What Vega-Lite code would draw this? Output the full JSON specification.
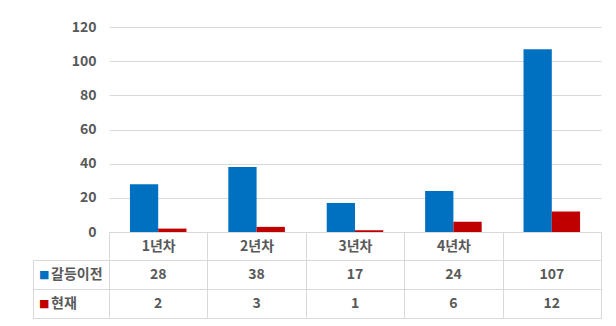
{
  "$schema": "https://vega.github.io/schema/vega-lite/v6.json",
  "padding": {"left": 32, "top": 20, "right": 0, "bottom": 0},
  "background": "white",
  "datasets": {
    "d": [
      {"year": "1년차", "series": "갈등이전", "value": 28},
      {"year": "2년차", "series": "갈등이전", "value": 38},
      {"year": "3년차", "series": "갈등이전", "value": 17},
      {"year": "4년차", "series": "갈등이전", "value": 24},
      {"year": "", "series": "갈등이전", "value": 107},
      {"year": "1년차", "series": "현재", "value": 2},
      {"year": "2년차", "series": "현재", "value": 3},
      {"year": "3년차", "series": "현재", "value": 1},
      {"year": "4년차", "series": "현재", "value": 6},
      {"year": "", "series": "현재", "value": 12}
    ],
    "rows": [
      {"series": "갈등이전", "color": "#0070C0"},
      {"series": "현재", "color": "#C00000"}
    ]
  },
  "config": {
    "font": "Noto Sans CJK KR",
    "view": {"stroke": null},
    "axis": {"labelFont": "Noto Sans CJK KR", "labelColor": "#595959", "labelFontSize": 14, "labelFontWeight": "bold"}
  },
  "columns": 2,
  "spacing": {"row": 28, "column": 0},
  "bounds": "flush",
  "concat": [
    {
      "width": 76,
      "height": 205,
      "data": {"values": []},
      "mark": "point",
      "encoding": {}
    },
    {
      "width": 492,
      "height": 205,
      "data": {"name": "d"},
      "mark": {"type": "bar"},
      "encoding": {
        "x": {
          "field": "year", "type": "nominal", "sort": ["1년차", "2년차", "3년차", "4년차", ""],
          "scale": {"paddingInner": 0, "paddingOuter": 0},
          "axis": {
            "title": null, "labelAngle": 0, "tickBand": "extent", "tickSize": 28,
            "tickColor": "#d9d9d9", "domainColor": "#d9d9d9", "labelPadding": -21
          }
        },
        "xOffset": {
          "field": "series", "type": "nominal", "sort": ["갈등이전", "현재"],
          "scale": {"paddingInner": 0, "paddingOuter": 0.74}
        },
        "y": {
          "field": "value", "type": "quantitative",
          "scale": {"domain": [0, 120]},
          "axis": {
            "title": null, "values": [0, 20, 40, 60, 80, 100, 120], "domain": false, "ticks": false,
            "gridColor": "#d9d9d9", "labelPadding": 13
          }
        },
        "color": {
          "field": "series", "type": "nominal", "legend": null,
          "scale": {"domain": ["갈등이전", "현재"], "range": ["#0070C0", "#C00000"]}
        }
      }
    },
    {
      "width": 76,
      "height": 58,
      "data": {"name": "rows"},
      "view": {"stroke": "#d9d9d9"},
      "encoding": {
        "y": {
          "field": "series", "type": "nominal", "sort": ["갈등이전", "현재"],
          "axis": {"title": null, "labels": false, "ticks": false, "domain": false, "grid": true, "tickBand": "extent", "gridColor": "#d9d9d9"}
        }
      },
      "layer": [
        {
          "mark": {"type": "text", "text": "■", "font": "DejaVu Sans", "fontSize": 11, "align": "left", "dx": -32},
          "encoding": {"color": {"field": "color", "type": "nominal", "scale": null}}
        },
        {
          "mark": {"type": "text", "align": "left", "dx": -20, "fontSize": 14, "fontWeight": "bold", "color": "#595959"},
          "encoding": {"text": {"field": "series"}}
        }
      ]
    },
    {
      "width": 492,
      "height": 58,
      "data": {"name": "d"},
      "view": {"stroke": "#d9d9d9"},
      "mark": {"type": "text", "fontSize": 14, "fontWeight": "bold", "color": "#595959"},
      "encoding": {
        "x": {
          "field": "year", "type": "nominal", "sort": ["1년차", "2년차", "3년차", "4년차", ""],
          "scale": {"paddingInner": 0, "paddingOuter": 0},
          "axis": {"title": null, "labels": false, "ticks": false, "domain": false, "grid": true, "tickBand": "extent", "gridColor": "#d9d9d9"}
        },
        "y": {
          "field": "series", "type": "nominal", "sort": ["갈등이전", "현재"],
          "axis": {"title": null, "labels": false, "ticks": false, "domain": false, "grid": true, "tickBand": "extent", "gridColor": "#d9d9d9"}
        },
        "text": {"field": "value", "type": "quantitative"}
      }
    }
  ]
}
